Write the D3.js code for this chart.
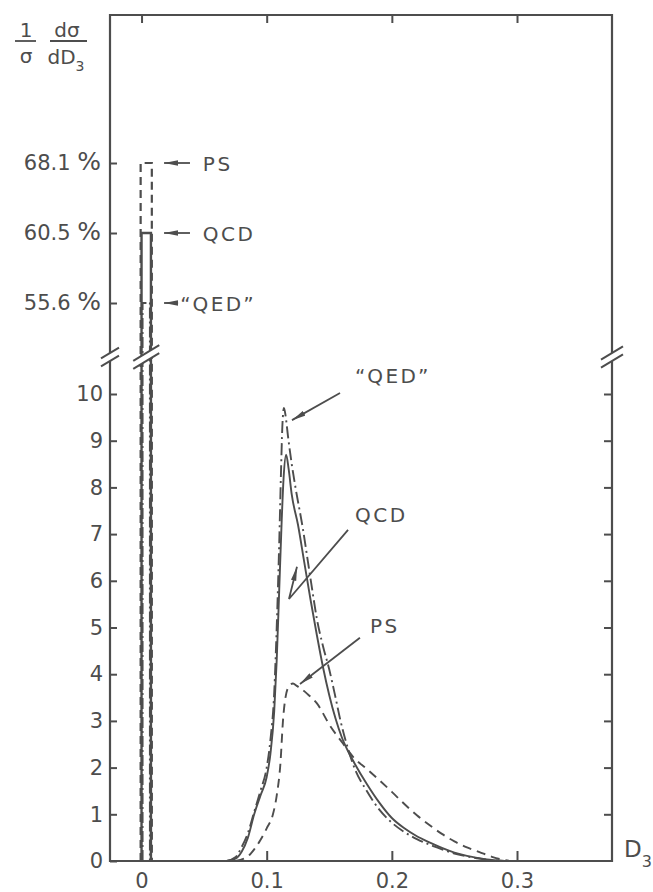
<!DOCTYPE html>
<html>
<head>
<meta charset="utf-8">
<script src="https://cdn.jsdelivr.net/npm/d3@7"></script>
<style>
  html, body { margin: 0; padding: 0; background: #fff; }
  svg { display: block; font-family: "DejaVu Sans", sans-serif; }
</style>
</head>
<body>
<svg id="chart" width="653" height="892"></svg>
<script>
// ---- Distribution of D3 for the three models (1/σ dσ/dD3) ----
const qcdD3  = [0.068,0.075,0.08,0.085,0.09,0.095,0.1,0.103,0.106,0.108,0.11,0.112,0.1135,0.1155,0.1175,0.12,0.125,0.13,0.135,0.14,0.145,0.15,0.155,0.16,0.165,0.17,0.18,0.19,0.2,0.21,0.22,0.23,0.24,0.25,0.26,0.27,0.28,0.29];
const qcdVal = [0,0.05,0.2,0.5,1.0,1.4,1.8,2.3,3.2,4.3,5.8,7.3,8.2,8.7,8.4,7.85,7.2,6.4,5.6,4.85,4.15,3.55,3.05,2.65,2.35,2.1,1.65,1.25,0.92,0.7,0.53,0.4,0.28,0.18,0.11,0.06,0.02,0];

const qedD3  = [0.068,0.075,0.08,0.085,0.09,0.095,0.1,0.103,0.106,0.108,0.11,0.1115,0.1125,0.1138,0.115,0.117,0.12,0.123,0.129,0.133,0.137,0.14,0.145,0.15,0.155,0.159,0.165,0.17,0.18,0.19,0.2,0.21,0.22,0.23,0.24,0.25,0.26,0.27,0.28,0.29];
const qedVal = [0,0.08,0.3,0.6,1.05,1.5,2.0,2.6,3.6,5.0,6.8,8.4,9.3,9.7,9.55,9.1,8.5,8.0,7.1,6.4,5.7,5.2,4.6,4.1,3.5,3.0,2.4,2.0,1.5,1.1,0.82,0.62,0.47,0.35,0.25,0.16,0.1,0.05,0.02,0];

const psD3   = [0.075,0.085,0.09,0.095,0.1,0.105,0.108,0.111,0.113,0.115,0.118,0.121,0.124,0.132,0.14,0.151,0.16,0.17,0.18,0.19,0.2,0.21,0.22,0.23,0.24,0.25,0.26,0.27,0.28,0.29,0.295];
const psVal  = [0,0.1,0.25,0.45,0.7,1.0,1.4,2.1,3.0,3.5,3.75,3.8,3.75,3.59,3.38,2.88,2.55,2.2,1.97,1.73,1.48,1.22,0.98,0.77,0.58,0.42,0.29,0.19,0.09,0.02,0];

// ---- Fraction of events in the first bin (D3 = 0), in percent ----
const spikeModels  = ["PS", "QCD", "“QED”"];
const spikePercent = [68.1, 60.5, 55.6];
const spikeBin     = [0, 0.0075];

// ---- Axis ticks ----
const xTicks      = [0, 0.1, 0.2, 0.3];
const xTickLabels = ["0", "0.1", "0.2", "0.3"];
const yTicks      = [0, 1, 2, 3, 4, 5, 6, 7, 8, 9, 10];
const upperTicks  = [55.6, 60.5, 68.1];

// ---- Layout ----
const plotL = 110, plotR = 612, plotT = 15, plotB = 861, breakY = 357;
const ink = "#4d4d4d";

const svg = d3.select("#chart");

const x = d3.scaleLinear().domain([-0.0252, 0.3759]).range([plotL, plotR]);
const yLow = d3.scaleLinear().domain([0, 10]).range([plotB, 394]);
// upper (broken) part of the axis: the three percentages are equally spaced
const yHigh = d3.scaleLinear().domain(upperTicks).range([303, 233, 163]);

// arrowhead
svg.append("defs").append("marker")
  .attr("id", "head")
  .attr("viewBox", "0 -3 14 6")
  .attr("refX", 14).attr("refY", 0)
  .attr("markerWidth", 14).attr("markerHeight", 6)
  .attr("markerUnits", "userSpaceOnUse")
  .attr("orient", "auto")
  .append("path").attr("d", "M0,-2.7L14,0L0,2.7Z").attr("fill", ink);

// ---- Frame ----
svg.append("path")
  .attr("d", `M${plotL},${plotB}V${plotT}H${plotR}V${plotB}Z`)
  .attr("fill", "none").attr("stroke", ink).attr("stroke-width", 2.2);

function styleAxis(g) {
  g.select(".domain").remove();
  g.selectAll(".tick line").attr("stroke", ink).attr("stroke-width", 2);
  g.selectAll(".tick text").attr("fill", ink)
    .attr("font-family", "'DejaVu Sans', sans-serif").attr("font-size", 21);
}

// left axis, lower part
svg.append("g").attr("transform", `translate(${plotL},0)`)
  .call(d3.axisLeft(yLow).tickValues(yTicks).tickSizeInner(-7).tickSizeOuter(0).tickPadding(7))
  .call(styleAxis);

// left axis, upper part (first-bin percentages)
const upper = svg.append("g").attr("transform", `translate(${plotL},0)`)
  .call(d3.axisLeft(yHigh).tickValues(upperTicks).tickSizeInner(-7).tickSizeOuter(0).tickPadding(9)
        .tickFormat(d => d3.format(".1f")(d)))
  .call(styleAxis);
upper.selectAll(".tick text").each(function () {
  const t = d3.select(this);
  const v = t.text();
  t.text(v + " ");
  t.append("tspan").attr("font-size", 25).text("%");
});

// right axis
svg.append("g").attr("transform", `translate(${plotR},0)`)
  .call(d3.axisRight(yLow).tickValues(yTicks.slice(1)).tickSizeInner(-8).tickSizeOuter(0).tickFormat(""))
  .call(styleAxis);

// bottom axis
svg.append("g").attr("transform", `translate(0,${plotB})`)
  .call(d3.axisBottom(x).tickValues(xTicks).tickSizeInner(-10).tickSizeOuter(0).tickPadding(12)
        .tickFormat((d, i) => xTickLabels[i]))
  .call(styleAxis);

// top axis
svg.append("g").attr("transform", `translate(0,${plotT})`)
  .call(d3.axisTop(x).tickValues(xTicks).tickSizeInner(-8).tickSizeOuter(0).tickFormat(""))
  .call(styleAxis);

// ---- First-bin spikes ----
const spikeStyle = [
  { dash: "8,5",        off: -0.9, w: 2.2 },   // PS
  { dash: null,         off: 0,    w: 2.4 },   // QCD
  { dash: "11,3,2,3",   off: 0.9,  w: 2.2 }    // "QED"
];
spikePercent.forEach((p, i) => {
  const s = spikeStyle[i];
  const x0 = x(spikeBin[0]) + s.off, x1 = x(spikeBin[1]) - s.off;
  svg.append("path")
    .attr("d", `M${x0},${yLow(0)}V${yHigh(p)}H${x1}V${yLow(0)}`)
    .attr("fill", "none").attr("stroke", ink).attr("stroke-width", s.w)
    .attr("stroke-dasharray", s.dash);
});

// ---- Distribution curves ----
const line = d3.line().x(d => x(d[0])).y(d => yLow(d[1])).curve(d3.curveMonotoneX);
const curves = [
  { xs: psD3,  ys: psVal,  dash: "9,6" },
  { xs: qedD3, ys: qedVal, dash: "12,4,2,4" },
  { xs: qcdD3, ys: qcdVal, dash: null }
];
curves.forEach(c => {
  svg.append("path")
    .datum(d3.zip(c.xs, c.ys))
    .attr("d", line)
    .attr("fill", "none").attr("stroke", ink).attr("stroke-width", 1.9)
    .attr("stroke-dasharray", c.dash);
});

// ---- Axis breaks ----
function axisBreak(xc, half) {
  const dy = half * 0.6, gap = 4;
  svg.append("path")
    .attr("d", `M${xc - half},${breakY - gap + dy}L${xc + half},${breakY - gap - dy}` +
               `L${xc + half},${breakY + gap - dy}L${xc - half},${breakY + gap + dy}Z`)
    .attr("fill", "#fff");
  [-gap, gap].forEach(g => {
    svg.append("line")
      .attr("x1", xc - half).attr("y1", breakY + g + dy)
      .attr("x2", xc + half).attr("y2", breakY + g - dy)
      .attr("stroke", ink).attr("stroke-width", 2);
  });
}
axisBreak(plotL, 9);
axisBreak(x((spikeBin[0] + spikeBin[1]) / 2), 13);
axisBreak(plotR, 11);

// ---- Labels for the first-bin fractions ----
const txt = (xp, yp, s, size, anchor) => svg.append("text")
  .attr("x", xp).attr("y", yp).attr("fill", ink)
  .attr("font-size", size || 20).attr("text-anchor", anchor || "start")
  .attr("letter-spacing", 2.5).text(s);

const spikeArrowTail = [0.0387, 0.0387, 0.0292];
const spikeLabelAt   = [0.049, 0.049, 0.031];
spikePercent.forEach((p, i) => {
  svg.append("line")
    .attr("x1", x(spikeArrowTail[i])).attr("y1", yHigh(p))
    .attr("x2", x(0.018)).attr("y2", yHigh(p))
    .attr("stroke", ink).attr("stroke-width", 1.8)
    .attr("marker-end", "url(#head)");
  txt(x(spikeLabelAt[i]), yHigh(p) + 7.5, spikeModels[i]);
});

// ---- Labels for the distributions ----
const annot = [
  { name: "“QED”", at: [0.1706, 10.24], path: [[0.1586, 10.02], [0.1202, 9.44]] },
  { name: "QCD",   at: [0.1706, 7.26],  path: [[0.165, 7.09], [0.1178, 5.61], [0.1242, 6.3]] },
  { name: "PS",    at: [0.1826, 4.88],  path: [[0.1745, 4.78], [0.1266, 3.79]] }
];
const annLine = d3.line().x(d => x(d[0])).y(d => yLow(d[1]));
annot.forEach(a => {
  svg.append("path").attr("d", annLine(a.path))
    .attr("fill", "none").attr("stroke", ink).attr("stroke-width", 1.8)
    .attr("marker-end", "url(#head)");
  txt(x(a.at[0]), yLow(a.at[1]), a.name);
});

// ---- Axis titles ----
const title = svg.append("g").attr("fill", ink).attr("font-size", 20).attr("text-anchor", "middle");
title.append("text").attr("x", 26).attr("y", 37).text("1");
title.append("text").attr("x", 26).attr("y", 63).text("σ");
title.append("line").attr("x1", 15).attr("x2", 36).attr("y1", 41).attr("y2", 41)
  .attr("stroke", ink).attr("stroke-width", 1.8);
title.append("text").attr("x", 67).attr("y", 37).text("dσ");
title.append("line").attr("x1", 50).attr("x2", 87).attr("y1", 41).attr("y2", 41)
  .attr("stroke", ink).attr("stroke-width", 1.8);
const dd = title.append("text").attr("x", 66).attr("y", 64);
dd.append("tspan").text("dD");
dd.append("tspan").attr("font-size", 14).attr("dy", 7).text("3");

const xt = svg.append("text").attr("x", 624).attr("y", 857).attr("fill", ink).attr("font-size", 23);
xt.append("tspan").text("D");
xt.append("tspan").attr("font-size", 16).attr("dy", 10).text("3");
</script>
</body>
</html>
